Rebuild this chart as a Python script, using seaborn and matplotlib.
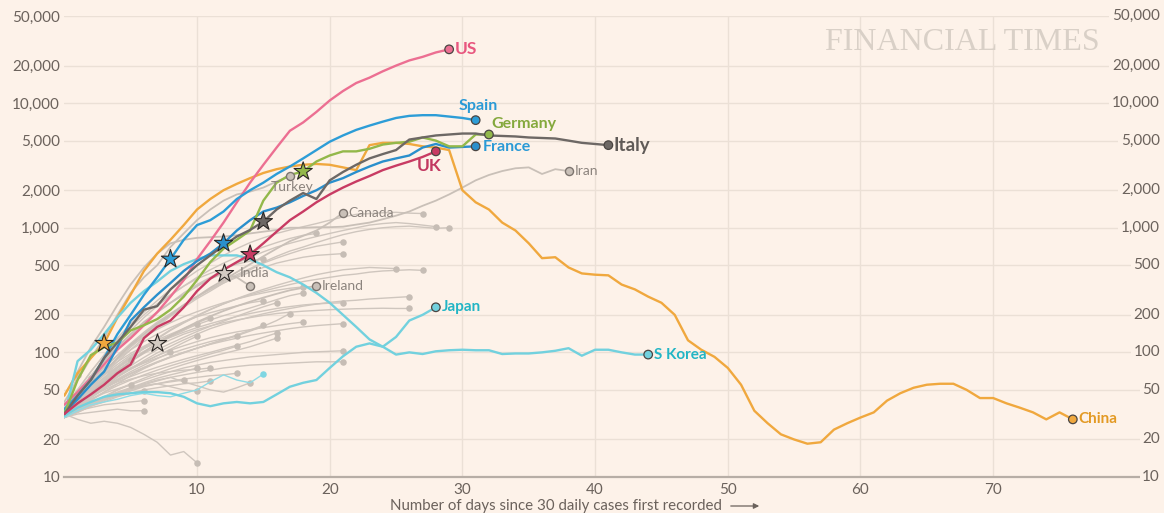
import numpy as np
import pandas as pd
import seaborn as sns
import matplotlib.pyplot as plt

# daily new cases, one value per day since 30 daily cases first recorded
us = [38, 48, 62, 80, 105, 130, 165, 210, 280, 380, 560, 780, 1100, 1600, 2300, 3200, 4400, 6000,
      7000, 8500, 10500, 12500, 14500, 16000, 18000, 20000, 22000, 23500, 25500, 27000]
spain = [35, 45, 60, 90, 140, 200, 290, 400, 560, 800, 1050, 1150, 1350, 1700, 2000, 2300, 2700, 3100,
         3600, 4200, 4900, 5500, 6100, 6600, 7100, 7600, 7900, 8000, 8000, 7800, 7600, 7300]
france = [33, 42, 55, 70, 110, 180, 230, 290, 360, 450, 540, 620, 750, 950, 1150, 1350, 1450, 1600,
          1800, 2000, 2300, 2500, 2800, 3100, 3400, 3600, 3800, 4400, 4700, 4400, 4450, 4500]
germany = [32, 60, 95, 110, 120, 150, 165, 185, 220, 280, 380, 530, 680, 800, 950, 1650, 2300, 2650,
           2830, 3400, 3800, 4100, 4100, 4300, 4650, 4800, 4900, 5300, 5000, 4500, 4500, 5600, 5600]
italy = [32, 45, 60, 90, 120, 160, 220, 235, 320, 400, 500, 600, 720, 850, 960, 1120, 1400, 1650,
         1900, 1700, 2400, 2800, 3200, 3600, 3900, 4200, 5100, 5300, 5500, 5600, 5700, 5700, 5500,
         5450, 5400, 5300, 5250, 5200, 5000, 4800, 4700, 4600]
uk = [32, 39, 46, 55, 68, 80, 130, 160, 180, 230, 310, 390, 460, 530, 610, 750, 930, 1150, 1350,
      1600, 1850, 2100, 2350, 2600, 2900, 3150, 3400, 3700, 4100]
china = [45, 68, 90, 118, 190, 290, 450, 620, 800, 1050, 1400, 1700, 2000, 2250, 2500, 2750, 2950,
         3100, 3200, 3250, 3200, 3050, 2900, 4600, 4800, 4800, 4700, 4500, 4400, 4200, 2000, 1600,
         1400, 1100, 950, 750, 570, 580, 480, 430, 420, 415, 350, 320, 280, 250, 200, 125, 105, 92,
         75, 55, 34, 27, 22, 20, 18.5, 19, 24, 27, 30, 33, 41, 47, 52, 55, 56, 56, 50, 43, 43, 39,
         36, 33, 29, 33, 29]
japan = [31, 36, 40, 44, 46, 47, 48, 48, 47, 44, 39, 37, 39, 40, 39, 40, 46, 53, 57, 60, 75, 93,
         111, 118, 111, 133, 180, 200, 230]
s_korea = [31, 85, 105, 140, 190, 250, 310, 370, 450, 510, 560, 600, 600, 600, 560, 500, 440, 400,
           350, 300, 250, 200, 160, 127, 111, 96, 100, 97, 102, 104, 105, 104, 104, 97, 98, 98, 100,
           103, 108, 94, 105, 105, 100, 96, 96]
other_cyan = [30, 34, 38, 40, 42, 45, 47, 45, 44, 47, 50, 58, 66, 60, 57, 67]

# labelled grey countries
iran = [45, 70, 110, 160, 240, 350, 480, 620, 750, 800, 830, 840, 850, 870, 900, 930, 960, 1000,
        1000, 1010, 1010, 1020, 1060, 1100, 1170, 1250, 1350, 1500, 1650, 1850, 2100, 2400, 2650,
        2850, 3000, 3050, 2700, 2950, 2850]
turkey = [40, 60, 90, 130, 200, 300, 400, 500, 700, 900, 1150, 1400, 1650, 1850, 1950, 2100, 2350, 2600]
canada = [32, 42, 55, 70, 90, 115, 140, 170, 200, 240, 280, 330, 380, 440, 510, 590, 680, 780, 860,
          950, 1100, 1320]
india = [33, 45, 62, 85, 110, 140, 175, 210, 250, 290, 340, 390, 430, 400, 340]
ireland = [30, 38, 47, 58, 70, 84, 100, 118, 136, 155, 175, 195, 215, 235, 255, 275, 295, 315, 330, 340]

# unlabelled grey countries
others = [
    [35, 50, 70, 95, 130, 170, 210, 260, 320, 380, 450, 520, 600, 680, 760, 830, 900, 960, 1020,
     1080, 1150, 1220, 1280, 1300, 1320, 1330, 1310, 1300],
    [33, 45, 60, 80, 105, 135, 170, 210, 250, 300, 350, 400, 460, 520, 580, 640, 700, 750, 800, 850,
     900, 950, 1000, 1050, 1080, 1100, 1080, 1050, 1020],
    [31, 40, 52, 68, 88, 110, 135, 165, 200, 240, 280, 320, 370, 420, 470, 530, 590, 650, 700, 760,
     820, 880, 930, 970, 1000, 1020, 1030, 1010, 990, 1000],
    [35, 48, 65, 88, 115, 150, 190, 235, 285, 340, 400, 460, 520, 580, 640, 700, 760, 820, 870, 900],
    [30, 40, 52, 66, 84, 105, 130, 160, 195, 230, 270, 310, 360, 410, 460, 520, 570, 620, 670, 710,
     740, 770],
    [34, 45, 58, 75, 95, 118, 145, 175, 205, 240, 280, 320, 360, 400, 440, 480, 520, 550, 580, 600,
     610, 620],
    [30, 38, 48, 60, 74, 90, 108, 128, 150, 172, 195, 220, 245, 270, 295, 320, 345, 370, 395, 420,
     440, 460, 470, 480, 475, 470],
    [31, 39, 50, 62, 76, 92, 110, 130, 152, 175, 198, 222, 245, 268, 290, 310, 330, 350, 370, 385,
     400, 415, 425, 440, 450, 455, 460, 455],
    [36, 50, 70, 95, 125, 160, 200, 245, 290, 340, 390, 430, 470, 510, 540, 560],
    [30, 36, 44, 53, 63, 74, 86, 99, 112, 126, 140, 155, 168, 180, 192, 204, 215, 225, 235, 244,
     252, 258, 262, 268, 272, 276, 280],
    [32, 40, 50, 60, 72, 85, 98, 112, 126, 140, 152, 163, 173, 182, 190, 198, 205, 210, 214, 217,
     220, 222, 224, 225, 226, 225, 225],
    [30, 40, 52, 66, 80, 95, 108, 120, 132, 145, 158, 170, 182, 194, 205, 215, 225, 233, 240, 245,
     248, 250],
    [35, 46, 60, 76, 94, 113, 133, 153, 173, 193, 212, 231, 250, 268, 285, 300, 315, 327, 335],
    [31, 40, 51, 63, 77, 92, 107, 122, 137, 152, 167, 182, 197, 212, 227, 245, 265, 285, 300],
    [33, 44, 57, 72, 88, 105, 122, 140, 158, 176, 193, 208, 222, 236, 250, 260],
    [30, 36, 45, 55, 66, 78, 91, 105, 118, 132, 147, 162, 178, 195, 213, 232, 250],
    [31, 37, 44, 52, 60, 68, 76, 84, 92, 100, 108, 117, 126, 136, 148, 162, 180, 205],
    [34, 41, 49, 57, 66, 75, 84, 94, 104, 113, 122, 131, 139, 146, 152, 158, 164, 170, 175],
    [30, 35, 41, 48, 56, 65, 74, 83, 92, 100, 108, 116, 123, 130, 137, 143, 149, 155, 160, 164,
     167, 170],
    [33, 44, 57, 70, 84, 98, 112, 126, 140, 155, 172, 190],
    [31, 40, 50, 62, 75, 88, 102, 117, 133, 150, 170],
    [30, 36, 43, 51, 59, 67, 75, 83, 91, 99, 108, 117, 127, 138, 151, 165],
    [32, 38, 45, 52, 58, 64, 70, 76, 82, 88, 94, 100, 107, 114, 122, 132, 143],
    [30, 34, 39, 44, 50, 56, 62, 68, 74, 80, 86, 92, 98, 104, 111, 120, 130],
    [34, 42, 50, 58, 66, 74, 82, 90, 98, 106, 114, 122, 129, 135],
    [30, 36, 42, 48, 54, 60, 66, 72, 78, 84, 90, 97, 104, 112],
    [32, 39, 47, 55, 64, 73, 83, 94, 106, 120, 135],
    [30, 37, 45, 53, 61, 70, 79, 89, 100],
    [35, 45, 56, 66, 76, 87],
    [30, 34, 39, 44, 50, 55, 60, 65, 70, 75, 79, 83, 86, 89, 92, 94, 96, 98, 100, 101, 102, 103],
    [31, 35, 39, 43, 47, 51, 55, 59, 63, 66, 69, 72, 75, 77, 79, 80, 81, 82, 83, 84, 84, 84],
    [30, 34, 38, 42, 47, 52, 57, 62, 66, 70, 75],
    [33, 38, 44, 50, 56, 61, 65, 68, 70, 72, 73, 75],
    [30, 33, 37, 41, 45, 49, 53, 56, 59, 61, 63, 65, 66, 68],
    [31, 35, 39, 43, 47, 51, 54, 56, 58, 60],
    [30, 33, 37, 40, 44, 47, 50, 52, 54, 56, 57, 59],
    [32, 36, 40, 44, 48, 52, 56, 60, 63, 58, 54, 50, 48, 52, 57],
    [30, 36, 42, 47, 51, 55],
    [31, 35, 39, 42, 45, 47, 49],
    [30, 34, 38, 42, 46, 50, 54, 56, 53, 50, 49],
    [32, 34, 36, 38, 39, 40, 41],
    [30, 32, 33, 34, 35, 34, 34],
    [32, 29, 27, 28, 27, 25, 22, 19, 15, 16, 13],
    [33, 66],
    [35, 50, 62],
    [31, 44],
]

highlight = {'China': china, 'S Korea': s_korea, 'Japan': japan, 'US': us, 'Spain': spain,
             'France': france, 'Germany': germany, 'Italy': italy, 'UK': uk}
labelled_grey = {'Iran': iran, 'Turkey': turkey, 'Canada': canada, 'India': india, 'Ireland': ireland}

line_colors = {'US': '#ec6f92', 'Spain': '#2d9dd7', 'France': '#2a8fcc', 'Germany': '#93b84a',
               'Italy': '#6d6865', 'UK': '#c83b63', 'China': '#f0a83e', 'Japan': '#72d1de',
               'S Korea': '#72d1de'}
text_colors = {'US': '#e8577f', 'Spain': '#2a9ad6', 'France': '#2a9ad6', 'Germany': '#84a83c',
               'Italy': '#5f5a57', 'UK': '#c23860', 'China': '#e39a24', 'Japan': '#22b5c5',
               'S Korea': '#22b5c5'}

# stars: day of lockdown-style marker on a line
star_days = {'China': 3, 'Spain': 8, 'France': 12, 'Italy': 15, 'Germany': 18, 'UK': 14}
grey_star_days = {'India': 12}
grey_star_other = (11, 7)  # (index in others, day)

bg = '#fdf2e9'
grey_line = '#cfc6be'
grey_dot = '#c6bdb5'
tick_col = '#6b625c'


def to_df(d):
    rows = []
    for name, vals in d.items():
        for day, v in enumerate(vals):
            rows.append((name, day, v))
    return pd.DataFrame(rows, columns=['country', 'day', 'cases'])


hi_df = to_df(highlight)
lab_df = to_df(labelled_grey)
oth_df = to_df({f'c{i}': v for i, v in enumerate(others)})
cyan_df = to_df({'other': other_cyan})

sns.set_style('white')
plt.rcParams['font.family'] = ['Lato', 'DejaVu Sans']

fig = plt.figure(figsize=(11.64, 5.13), dpi=100, facecolor=bg)
ax = fig.add_axes([64.3 / 1164, 1 - 477 / 513, (1160 - 64.3) / 1164, (477 - 16) / 513])
ax.set_facecolor(bg)

sns.lineplot(data=oth_df, x='day', y='cases', units='country', estimator=None, color=grey_line,
             lw=1.0, ax=ax, legend=False, zorder=2)
sns.lineplot(data=lab_df, x='day', y='cases', units='country', estimator=None, color='#c9c0b8',
             lw=1.3, ax=ax, legend=False, zorder=2.5)
sns.lineplot(data=cyan_df, x='day', y='cases', color='#8fdbe5', lw=1.0, ax=ax, legend=False, zorder=2.6)
sns.lineplot(data=hi_df, x='day', y='cases', hue='country', hue_order=list(highlight),
             palette=line_colors, estimator=None, lw=1.7, ax=ax, legend=False, zorder=3)

# end dots
oth_end = oth_df.groupby('country').tail(1)
sns.scatterplot(data=oth_end, x='day', y='cases', color=grey_dot, s=22, linewidth=0, ax=ax,
                legend=False, zorder=2.2)
sns.scatterplot(data=cyan_df.tail(1), x='day', y='cases', color='#7fd6e2', s=22, linewidth=0,
                ax=ax, legend=False, zorder=2.7)
lab_end = lab_df.groupby('country').tail(1)
sns.scatterplot(data=lab_end, x='day', y='cases', color='#c9c0b8', s=34, edgecolor='#7d756f',
                linewidth=1.0, ax=ax, legend=False, zorder=4)
hi_end = hi_df.groupby('country').tail(1)
sns.scatterplot(data=hi_end, x='day', y='cases', hue='country', palette=line_colors, s=38,
                edgecolor='#4a4542', linewidth=0.9, ax=ax, legend=False, zorder=5)

# stars
stars = hi_df[hi_df.apply(lambda r: star_days.get(r['country']) == r['day'], axis=1)]
sns.scatterplot(data=stars, x='day', y='cases', hue='country', palette=line_colors, marker='*',
                s=190, edgecolor='#2b2725', linewidth=0.8, ax=ax, legend=False, zorder=6)
gstars = lab_df[lab_df.apply(lambda r: grey_star_days.get(r['country']) == r['day'], axis=1)]
gi, gd = grey_star_other
gstars = pd.concat([gstars, oth_df[(oth_df['country'] == f'c{gi}') & (oth_df['day'] == gd)]])
sns.scatterplot(data=gstars, x='day', y='cases', color='#d3cbc3', marker='*', s=190,
                edgecolor='#2b2725', linewidth=0.8, ax=ax, legend=False, zorder=6)

# labels next to end dots: (dx, dy) in pixels, ha, size
label_pos = {
    'US': (6, 0, 'left', 12.5),
    'Spain': (3, 14, 'center', 11.5),
    'Germany': (2, 10, 'left', 11.5),
    'France': (7, -1, 'left', 11.5),
    'Italy': (5, 0, 'left', 13.5),
    'UK': (-7, -15, 'center', 12.5),
    'China': (6, 0, 'left', 11),
    'Japan': (6, 0, 'left', 11),
    'S Korea': (6, 0, 'left', 11),
}
for name, (dx, dy, ha, size) in label_pos.items():
    v = highlight[name]
    ax.annotate(name, (len(v) - 1, v[-1]), xytext=(dx, dy), textcoords='offset pixels',
                ha=ha, va='center', fontsize=size, fontweight='bold', color=text_colors[name],
                zorder=7)

grey_label_pos = {
    'Iran': (6, 0, 'left'),
    'Turkey': (2, -11, 'center'),
    'Canada': (5, 0, 'left'),
    'India': (4, 13, 'center'),
    'Ireland': (5, 0, 'left'),
}
for name, (dx, dy, ha) in grey_label_pos.items():
    v = labelled_grey[name]
    ax.annotate(name, (len(v) - 1, v[-1]), xytext=(dx, dy), textcoords='offset pixels',
                ha=ha, va='center', fontsize=10, color='#8c847e', zorder=7)

# axes styling
ax.set_yscale('log')
ax.set_ylim(10, 50000)
ax.set_xlim(0, (1160 - 64.3) / 13.27)
yticks = [10, 20, 50, 100, 200, 500, 1000, 2000, 5000, 10000, 20000, 50000]
ax.set_yticks(yticks)
ax.set_yticklabels([f'{t:,}' for t in yticks])
ax.yaxis.set_minor_locator(plt.NullLocator())
ax.set_xticks([10, 20, 30, 40, 50, 60, 70])
ax.tick_params(axis='both', length=0, labelsize=11, labelcolor=tick_col)
ax.tick_params(axis='y', pad=3)
ax.tick_params(axis='x', pad=4)
ax.grid(True, color='#ebe0d6', lw=1.0, zorder=0)
ax.set_axisbelow(True)
for s in ['top', 'right', 'left']:
    ax.spines[s].set_visible(False)
ax.spines['bottom'].set_color('#b7aea6')
ax.spines['bottom'].set_linewidth(1.6)
ax.set_xlabel('')
ax.set_ylabel('')

# right-hand tick labels
trans = ax.get_yaxis_transform()
for t in yticks:
    ax.text(1.0, t, f'{t:,}', transform=trans, ha='right', va='center', fontsize=11,
            color=tick_col, zorder=8, clip_on=False,
            bbox=dict(fc=bg, ec='none', pad=2.0))

fig.text(722 / 1164, 1 - 506 / 513, 'Number of days since 30 daily cases first recorded',
         ha='right', va='center', fontsize=10.8, color=tick_col)
ax.annotate('', xy=(762 / 1164, 1 - 506 / 513), xytext=(728 / 1164, 1 - 506 / 513),
            xycoords='figure fraction', textcoords='figure fraction',
            arrowprops=dict(arrowstyle='-|>', color=tick_col, lw=0.9, mutation_scale=8))

fig.text(1100 / 1164, 1 - 42 / 513, 'FINANCIAL TIMES', ha='right', va='center',
         family='Liberation Serif', fontsize=23, color='#d9d0c7')

fig.savefig('out.png', dpi=100, facecolor=bg)
